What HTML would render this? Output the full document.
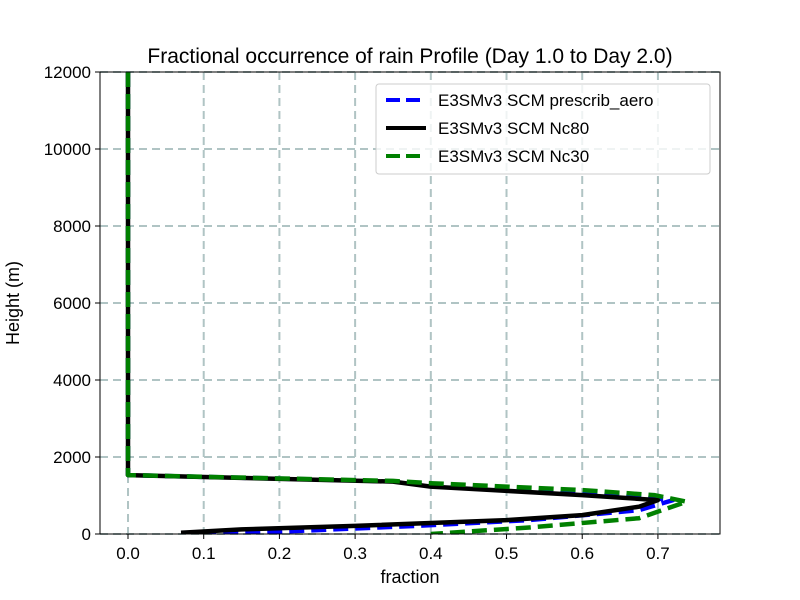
<!DOCTYPE html>
<html><head><meta charset="utf-8"><style>body{margin:0;background:#fff}svg{display:block;font-family:"Liberation Sans","DejaVu Sans",sans-serif}</style></head>
<body>
<svg id="chart" width="800" height="600" xmlns="http://www.w3.org/2000/svg">
<rect width="800" height="600" fill="#fff"/>
<text x="410" y="63" font-size="21" text-anchor="middle">Fractional occurrence of rain Profile (Day 1.0 to Day 2.0)</text>
<g id="grid"></g><g id="series"></g><g id="axes"></g>
<text x="410" y="583" font-size="18" text-anchor="middle">fraction</text>
<text transform="translate(19,303) rotate(-90)" font-size="18" text-anchor="middle">Height (m)</text>
<g>
<rect x="376" y="84" width="334" height="90" fill="#fff" fill-opacity="0.8" stroke="#ccc" rx="3"/>
<line x1="386" y1="100" x2="426" y2="100" stroke="#0000ff" stroke-width="4" stroke-dasharray="14,6"/>
<text x="438" y="106" font-size="17">E3SMv3 SCM prescrib_aero</text>
<line x1="386" y1="128" x2="426" y2="128" stroke="#000" stroke-width="4"/>
<text x="438" y="134" font-size="17">E3SMv3 SCM Nc80</text>
<line x1="386" y1="156" x2="426" y2="156" stroke="#008000" stroke-width="4" stroke-dasharray="14,6"/>
<text x="438" y="162" font-size="17">E3SMv3 SCM Nc30</text>
</g>
</svg>
<script>
const xTicks=[0,0.1,0.2,0.3,0.4,0.5,0.6,0.7];
const yTicks=[0,2000,4000,6000,8000,10000,12000];
const blueFrac=[0,0,0.35,0.40,0.60,0.70,0.72,0.675,0.53,0.38,0.20,0.10];
const blueH=[12000,1530,1370,1240,1030,920,880,620,360,210,60,0];
const blackFrac=[0,0,0.35,0.40,0.60,0.70,0.675,0.60,0.50,0.30,0.15,0.07];
const blackH=[12000,1530,1360,1230,1010,880,710,490,360,210,120,35];
const greenFrac=[0,0,0.35,0.40,0.60,0.695,0.738,0.675,0.53,0.40];
const greenH=[12000,1530,1380,1320,1140,1010,840,410,170,0];
const L=100,R=720,T=72,B=534,xmin=-0.037,xmax=0.782,ymin=0,ymax=12000;
const sx=v=>L+(v-xmin)/(xmax-xmin)*(R-L), sy=v=>B-(v-ymin)/(ymax-ymin)*(B-T);
const NS="http://www.w3.org/2000/svg";
function mk(t,a,p){const e=document.createElementNS(NS,t);for(const k in a)e.setAttribute(k,a[k]);p.appendChild(e);return e;}
const grid=document.getElementById('grid'),ser=document.getElementById('series'),ax=document.getElementById('axes');
xTicks.forEach(v=>{const x=sx(v);
const g=mk('line',{x1:x,x2:x,y1:T,y2:B,stroke:'#b0c4c4','stroke-width':2,'stroke-dasharray':'8,5'},grid);

mk('line',{x1:x,x2:x,y1:B,y2:B+5,stroke:'#000'},ax);
const t=mk('text',{x:x,y:B+25,'font-size':17,'text-anchor':'middle'},ax);t.textContent=v.toFixed(1);
});
yTicks.forEach(v=>{const y=sy(v);
const g=mk('line',{x1:L,x2:R,y1:y,y2:y,stroke:'#b0c4c4','stroke-width':2,'stroke-dasharray':'8,5'},grid);

mk('line',{x1:L-5,x2:L,y1:y,y2:y,stroke:'#000'},ax);
const t=mk('text',{x:L-9,y:y+6,'font-size':17,'text-anchor':'end'},ax);t.textContent=v;
});
const fr=mk('rect',{x:L,y:T,width:R-L,height:B-T,fill:'none',stroke:'#000','stroke-width':1},ax);

const cp=mk('clipPath',{id:'cp'},ser);mk('rect',{x:L,y:T,width:R-L,height:B-T},cp);
function line(f,h,col,dash,name){const d=f.map((v,i)=>(i?'L':'M')+sx(v).toFixed(1)+','+sy(h[i]).toFixed(1)).join('');
const a={d:d,fill:'none',stroke:col,'stroke-width':4.5,'stroke-linejoin':'round','clip-path':'url(#cp)'};if(dash)a['stroke-dasharray']=dash;
const p=mk('path',a,ser);}
line(blueFrac,blueH,'#0000ff','15,7','series-prescrib-aero');
line(blackFrac,blackH,'#000','', 'series-nc80');
line(greenFrac,greenH,'#008000','15,7','series-nc30');
</script>
</body></html>
